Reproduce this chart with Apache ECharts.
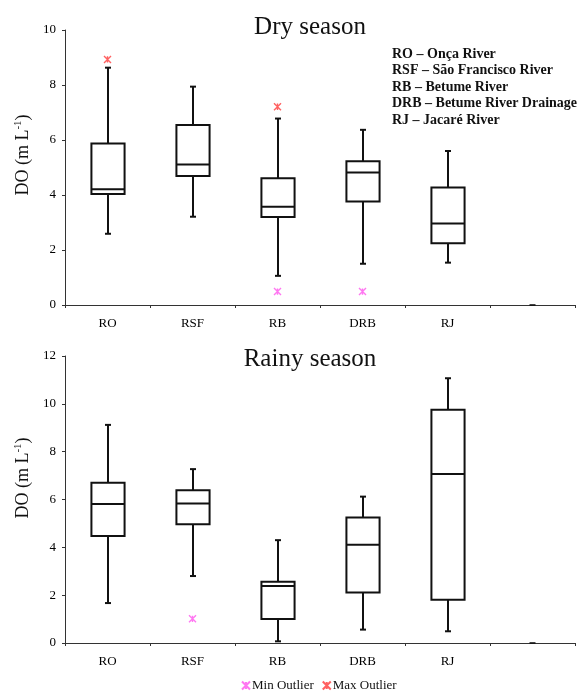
<!DOCTYPE html>
<html>
<head>
<meta charset="utf-8">
<script src="https://cdn.jsdelivr.net/npm/echarts@6/dist/echarts.min.js"></script>
<style>html,body{margin:0;padding:0;background:#fff}#c{width:581px;height:691px}</style>
</head>
<body>
<div id="c"></div>
<script>
// ---- data ----
const categories = ['RO', 'RSF', 'RB', 'DRB', 'RJ', ''];
// [min, Q1, median, Q3, max]
const dryBoxes = [
  [2.59, 4.04, 4.21, 5.87, 8.63],
  [3.21, 4.69, 5.11, 6.55, 7.94],
  [1.06, 3.20, 3.57, 4.61, 6.78],
  [1.50, 3.76, 4.82, 5.23, 6.37],
  [1.54, 2.25, 2.96, 4.27, 5.60]
];
const rainyBoxes = [
  [1.67, 4.47, 5.81, 6.70, 9.12],
  [2.80, 4.96, 5.83, 6.39, 7.27],
  [0.07, 1.00, 2.38, 2.56, 4.30],
  [0.56, 2.11, 4.11, 5.25, 6.12],
  [0.49, 1.81, 7.07, 9.75, 11.07]
];
const dryMinOutliers = [['RB', 0.49], ['DRB', 0.49]];
const dryMaxOutliers = [['RO', 8.93], ['RB', 7.21]];
const rainyMinOutliers = [['RSF', 1.01]];
const rainyMaxOutliers = [];
const emptyCategoryMark = [['', 0]];
const dryYTicks = {min: 0, max: 10, interval: 2};
const rainyYTicks = {min: 0, max: 12, interval: 2};
const riverNames = [
  'RO \u2013 On\u00e7a River',
  'RSF \u2013 S\u00e3o Francisco River',
  'RB \u2013 Betume River',
  'DRB \u2013 Betume River Drainage',
  'RJ \u2013 Jacar\u00e9 River'
];

// ---- chart ----
const FONT = '"Liberation Serif", "DejaVu Serif", serif';
const INK = '#111';
const MIN_COLOR = '#ff55ee';
const MAX_COLOR = '#ff3a3a';
const XMARK = 'path://M0 0L10 10M10 0L0 10M5 0.5L5 9.5';

function toRows(boxes) {
  return boxes.map((b, i) => [i].concat(b));
}

function renderBox(params, api) {
  const i = api.value(0);
  const lo = api.coord([i, api.value(1)]);
  const q1 = api.coord([i, api.value(2)]);
  const med = api.coord([i, api.value(3)]);
  const q3 = api.coord([i, api.value(4)]);
  const hi = api.coord([i, api.value(5)]);
  const bw = api.size([1, 0])[0];
  const half = bw * 0.195;
  const cap = 3;
  const x = Math.round(lo[0]);
  const st = {stroke: INK, lineWidth: 2, fill: null};
  return {
    type: 'group',
    children: [
      {type: 'line', shape: {x1: x, y1: hi[1], x2: x, y2: q3[1]}, style: st},
      {type: 'line', shape: {x1: x, y1: q1[1], x2: x, y2: lo[1]}, style: st},
      {type: 'line', shape: {x1: x - cap, y1: hi[1], x2: x + cap, y2: hi[1]}, style: st},
      {type: 'line', shape: {x1: x - cap, y1: lo[1], x2: x + cap, y2: lo[1]}, style: st},
      {type: 'rect', shape: {x: x - half, y: q3[1], width: half * 2, height: q1[1] - q3[1]},
        style: {stroke: INK, lineWidth: 2, fill: '#fff'}},
      {type: 'line', shape: {x1: x - half, y1: med[1], x2: x + half, y2: med[1]}, style: st}
    ]
  };
}

function xAxisCfg(gridIndex) {
  return {
    type: 'category', gridIndex, data: categories,
    axisLine: {lineStyle: {color: '#333', width: 1}},
    axisTick: {show: true, length: 3, lineStyle: {color: '#333'}},
    axisLabel: {fontFamily: FONT, fontSize: 13, color: '#000', margin: 12}
  };
}
function yAxisCfg(gridIndex, t) {
  return {
    type: 'value', gridIndex, min: t.min, max: t.max, interval: t.interval,
    splitLine: {show: false},
    axisLine: {show: true, lineStyle: {color: '#333', width: 1}},
    axisTick: {show: true, length: 3, lineStyle: {color: '#333'}},
    axisLabel: {fontFamily: FONT, fontSize: 13, color: '#000', margin: 9}
  };
}
function outlierSeries(name, data, idx, color) {
  return {
    name, type: 'scatter', xAxisIndex: idx, yAxisIndex: idx, data,
    symbol: XMARK, symbolSize: 7, z: 5,
    itemStyle: {color: 'rgba(0,0,0,0)', borderColor: color, borderWidth: 1.4}
  };
}
function yName(x, y) {
  return {
    type: 'text', x, y, rotation: Math.PI / 2,
    style: {
      text: '{a|DO (m L}{s|-1}{a|)}',
      align: 'center', verticalAlign: 'middle',
      rich: {
        a: {fontFamily: FONT, fontSize: 18, fill: INK, lineHeight: 20},
        s: {fontFamily: FONT, fontSize: 11, fill: INK, lineHeight: 20, verticalAlign: 'top', padding: [0, 0, 8, 0]}
      }
    }
  };
}

const chart = echarts.init(document.getElementById('c'), null, {renderer: 'canvas'});
chart.setOption({
  animation: false,
  backgroundColor: '#fff',
  title: [
    {text: 'Dry season', left: 305, top: 10, textAlign: 'center',
      textStyle: {fontFamily: FONT, fontSize: 25, fontWeight: 'normal', color: INK}},
    {text: 'Rainy season', left: 305, top: 342, textAlign: 'center',
      textStyle: {fontFamily: FONT, fontSize: 25, fontWeight: 'normal', color: INK}},
    {text: riverNames.join('\n'), left: 387, top: 41,
      textStyle: {fontFamily: FONT, fontSize: 14, fontWeight: 'bold', color: INK, lineHeight: 16.5}}
  ],
  legend: {
    left: 236, top: 674, itemGap: 8, itemWidth: 8, itemHeight: 8,
    data: ['Min Outlier', 'Max Outlier'],
    textStyle: {fontFamily: FONT, fontSize: 13, color: INK, padding: [0, 0, 0, -3]}
  },
  grid: [
    {left: 65, width: 510, top: 30, height: 275},
    {left: 65, width: 510, top: 356, height: 287}
  ],
  xAxis: [xAxisCfg(0), xAxisCfg(1)],
  yAxis: [yAxisCfg(0, dryYTicks), yAxisCfg(1, rainyYTicks)],
  graphic: [yName(23, 155), yName(23, 478)],
  series: [
    {type: 'custom', xAxisIndex: 0, yAxisIndex: 0, data: toRows(dryBoxes),
      renderItem: renderBox, encode: {x: 0, y: [1, 2, 3, 4, 5]}, z: 3},
    {type: 'custom', xAxisIndex: 1, yAxisIndex: 1, data: toRows(rainyBoxes),
      renderItem: renderBox, encode: {x: 0, y: [1, 2, 3, 4, 5]}, z: 3},
    outlierSeries('Min Outlier', dryMinOutliers, 0, MIN_COLOR),
    outlierSeries('Max Outlier', dryMaxOutliers, 0, MAX_COLOR),
    outlierSeries('Min Outlier', rainyMinOutliers, 1, MIN_COLOR),
    outlierSeries('Max Outlier', rainyMaxOutliers, 1, MAX_COLOR),
    {type: 'scatter', xAxisIndex: 0, yAxisIndex: 0, data: emptyCategoryMark,
      symbol: 'rect', symbolSize: [6, 2], itemStyle: {color: INK}, z: 4},
    {type: 'scatter', xAxisIndex: 1, yAxisIndex: 1, data: emptyCategoryMark,
      symbol: 'rect', symbolSize: [6, 2], itemStyle: {color: INK}, z: 4}
  ]
});
</script>
</body>
</html>
